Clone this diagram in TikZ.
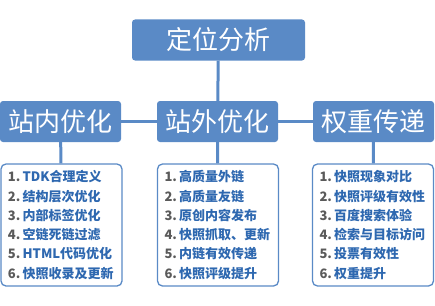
\documentclass[tikz,border=0pt]{standalone}
\usepackage{fontspec}
\setmainfont{Noto Sans CJK SC}
\usetikzlibrary{positioning}

\definecolor{boxblue}{RGB}{90,138,198}
\definecolor{itemblue}{RGB}{46,104,176}
\definecolor{numgray}{RGB}{90,90,90}
\newcommand{\lnum}[1]{{\color{numgray}#1}\,}

\begin{document}
\begin{tikzpicture}[x=1pt,y=-1pt,
    head/.style={rectangle,rounded corners=3pt,fill=boxblue,text=white,
        minimum height=41pt,inner sep=0pt,font=\fontsize{26}{30}\selectfont},
    list/.style={rectangle,rounded corners=5pt,draw=boxblue,line width=1.3pt,fill=white,
        minimum width=121pt,minimum height=122pt,text width=107pt,align=left,
        text=itemblue,inner sep=0pt,font=\bfseries\fontsize{13}{19.3}\selectfont},
    link/.style={draw=boxblue,line width=3pt}]
    \useasboundingbox (0,0) rectangle (435,305);

    \node[head,minimum width=173pt] (dw) at (218.5,40)  {定位分析};
    \node[head,minimum width=121pt] (zn) at (60.5,121.5)  {站内优化};
    \node[head,minimum width=121pt] (zw) at (217.5,121.5) {站外优化};
    \node[head,minimum width=121pt] (qz) at (373.5,121.5) {权重传递};

    \node[list] (l1) at (61.5,225) {\lnum{1.}TDK合理定义\\ \lnum{2.}结构层次优化\\
        \lnum{3.}内部标签优化\\ \lnum{4.}空链死链过滤\\ \lnum{5.}HTML代码优化\\
        \lnum{6.}快照收录及更新};
    \node[list] (l2) at (218,225) {\lnum{1.}高质量外链\\ \lnum{2.}高质量友链\\
        \lnum{3.}原创内容发布\\ \lnum{4.}快照抓取、更新\\ \lnum{5.}内链有效传递\\
        \lnum{6.}快照评级提升};
    \node[list] (l3) at (373,225) {\lnum{1.}快照现象对比\\ \lnum{2.}快照评级有效性\\
        \lnum{3.}百度搜索体验\\ \lnum{4.}检索与目标访问\\ \lnum{5.}投票有效性\\
        \lnum{6.}权重提升};

    \draw[link] (dw) -- (zw);
    \draw[link] (zn) -- (zw);
    \draw[link] (zw) -- (qz);
    \draw[link] (zn) -- (l1);
    \draw[link] (zw) -- (l2);
    \draw[link] (qz) -- (l3);
\end{tikzpicture}
\end{document}
